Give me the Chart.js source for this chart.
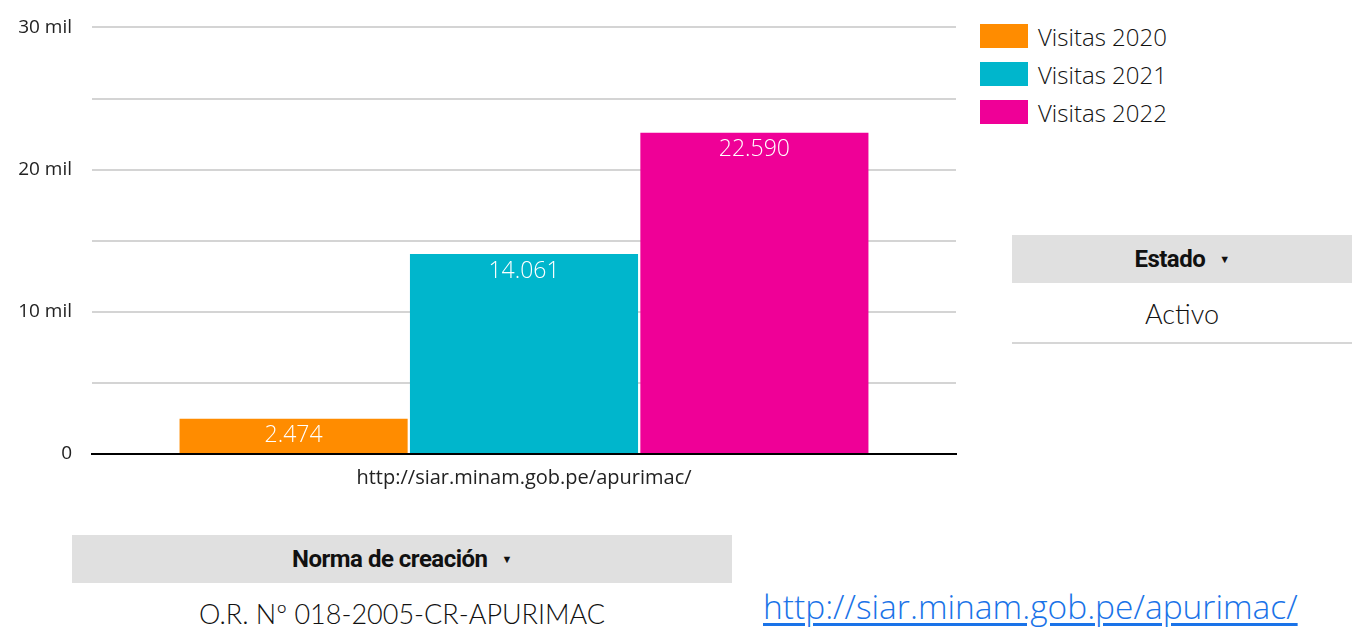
<!DOCTYPE html>
<html lang="es">
<head>
<meta charset="utf-8">
<script src="https://cdn.jsdelivr.net/npm/chart.js@4"></script>
<style>
    html, body { margin: 0; padding: 0; background: #fff; }
    body { width: 1364px; height: 635px; position: relative; overflow: hidden; font-family: "Open Sans", Lato, sans-serif; color: #222; }
    #chartBox { position: absolute; left: 0; top: -4px; width: 960px; height: 504px; }
    #legend { position: absolute; left: 980px; top: 24px; list-style: none; margin: 0; padding: 0; }
    #legend li { display: flex; align-items: center; height: 24px; margin-bottom: 14px; font-size: 24px; font-weight: 300; color: #111; }
    #legend span.box { width: 48px; height: 24px; margin-right: 10px; display: inline-block; }
    .tbl-head { position: absolute; background: #e0e0e0; font-family: Roboto, sans-serif; font-weight: 700; font-size: 24px; display: flex; align-items: center; justify-content: center; color: #111; letter-spacing: -0.5px; }
    .tbl-head .arrow { font-size: 11px; margin-left: 14px; }
    .tbl-cell { position: absolute; display: flex; align-items: center; justify-content: center; font-family: Lato, sans-serif; font-size: 27px; font-weight: 300; color: #111; }
    #link { position: absolute; left: 763px; top: 583px; font-size: 33.5px; font-weight: 300; color: #1a73e8; text-decoration: underline; text-underline-offset: 4px; }
</style>
</head>
<body>
<div id="chartBox"><canvas id="visitsChart"></canvas></div>
<ul id="legend"></ul>

<div class="tbl-head" style="left:1012px;top:235px;width:340px;height:48px;">Estado<span class="arrow">▼</span></div>
<div class="tbl-cell" style="left:1012px;top:284px;width:340px;height:58px;border-bottom:2px solid #d6d6d6;">Activo</div>

<div class="tbl-head" style="left:72px;top:535px;width:660px;height:48px;">Norma de creación<span class="arrow">▼</span></div>
<div class="tbl-cell" style="left:72px;top:588px;width:660px;height:50px;">O.R. Nº 018-2005-CR-APURIMAC</div>

<a id="link" href="#">http://siar.minam.gob.pe/apurimac/</a>

<script>
const categories = ["http://siar.minam.gob.pe/apurimac/"];
const seriesNames = ["Visitas 2020", "Visitas 2021", "Visitas 2022"];
const visitas2020 = [2474];
const visitas2021 = [14061];
const visitas2022 = [22590];
const seriesColors = ["#ff8c00", "#00b6cc", "#ef0097"];

const fmt = (v) => String(v).replace(/\B(?=(\d{3})+(?!\d))/g, ".");

const valueLabels = {
    id: "valueLabels",
    afterDatasetsDraw(chart) {
        const ctx = chart.ctx;
        ctx.save();
        ctx.fillStyle = "#fff";
        ctx.font = "300 23px 'Open Sans', sans-serif";
        ctx.textAlign = "center";
        ctx.textBaseline = "middle";
        chart.data.datasets.forEach((ds, i) => {
            chart.getDatasetMeta(i).data.forEach((bar, j) => {
                ctx.fillText(fmt(ds.data[j]), bar.x, bar.y + 17);
            });
        });
        ctx.restore();
    }
};

const seriesData = [visitas2020, visitas2021, visitas2022];

document.querySelector("#legend").innerHTML = seriesNames.map((name, i) => `
    <li><span class="box" style="background:${seriesColors[i]}"></span>${name}</li>
`).join("");

new Chart(document.querySelector("#visitsChart"), {
    type: "bar",
    data: {
        labels: categories,
        datasets: seriesNames.map((name, i) => ({
            label: name,
            data: seriesData[i],
            backgroundColor: seriesColors[i],
            categoryPercentage: 0.8,
            barPercentage: 0.99
        }))
    },
    options: {
        responsive: true,
        maintainAspectRatio: false,
        animation: false,
        layout: { padding: { top: 22, right: 4, left: 0, bottom: 0 } },
        plugins: { legend: { display: false }, tooltip: { enabled: false } },
        scales: {
            x: {
                grid: { display: false },
                border: { color: "#000", width: 2 },
                ticks: { color: "#222", font: { family: "'Open Sans'", size: 20 }, padding: 4 },
                afterFit: (scale) => { scale.height = 46; }
            },
            y: {
                min: 0,
                max: 30000,
                border: { display: false },
                grid: { color: "#d4d4d4", lineWidth: 2, drawTicks: false },
                ticks: {
                    stepSize: 5000,
                    padding: 20,
                    color: "#222",
                    font: { family: "'Open Sans'", size: 19 },
                    callback: (v) => v === 0 ? "0" : (v % 10000 === 0 ? (v / 1000) + " mil" : "")
                },
                afterFit: (scale) => { scale.width = 92; }
            }
        }
    },
    plugins: [valueLabels]
});
</script>
</body>
</html>
